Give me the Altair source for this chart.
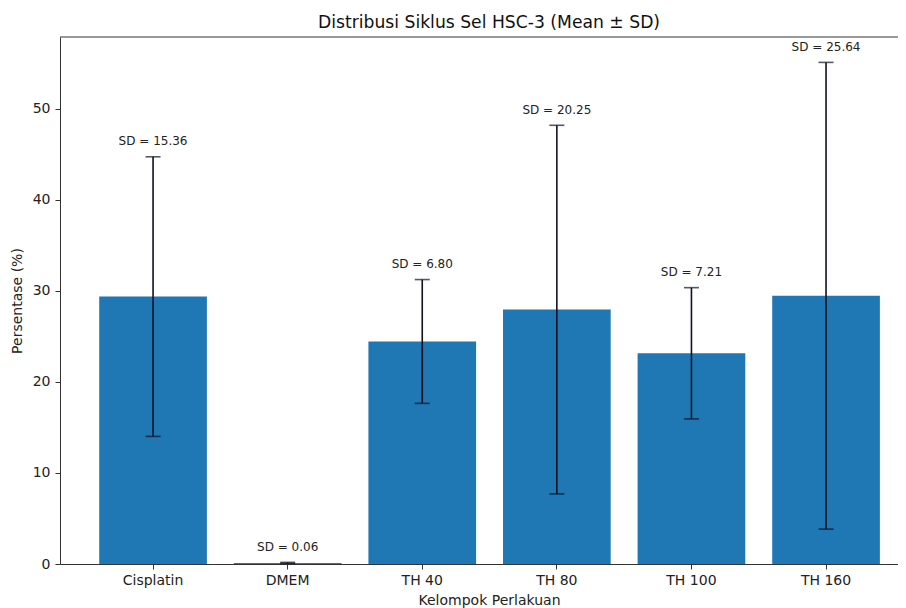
import altair as alt
import pandas as pd

groups = ["Cisplatin", "DMEM", "TH 40", "TH 80", "TH 100", "TH 160"]
means = [29.38, 0.12, 24.45, 27.95, 23.15, 29.47]
sds = [15.36, 0.06, 6.80, 20.25, 7.21, 25.64]

df = pd.DataFrame({"group": groups, "mean": means, "sd": sds})
df["low"] = df["mean"] - df["sd"]
df["high"] = df["mean"] + df["sd"]
df["label"] = ["SD = %.2f" % s for s in sds]

FONT = "DejaVu Sans"
W, H = 838, 527

xscale = alt.Scale(domain=groups, paddingInner=0.2, paddingOuter=0.213, align=0.684)
yscale = alt.Scale(domain=[0, 57.9], nice=False, zero=True)

base = alt.Chart(df)

x_enc = alt.X("group:N", scale=xscale, sort=groups,
              axis=alt.Axis(title="Kelompok Perlakuan", labelAngle=0, labelFontSize=14,
                            labelFont=FONT, labelColor="#222", titleFont=FONT,
                            titleFontSize=14, titleFontWeight="normal", titleColor="#222",
                            tickSize=5, tickColor="#333", domainColor="#333",
                            labelPadding=4, titleX=429, titleY=29, titleBaseline="top",
                            titleAlign="center"))

bars = base.mark_bar(color="#1f77b4").encode(
    x=x_enc,
    y=alt.Y("mean:Q", scale=yscale,
            axis=alt.Axis(title="Persentase (%)", values=[0, 10, 20, 30, 40, 50],
                          grid=False, labelFontSize=14, labelFont=FONT, labelColor="#222",
                          titleFont=FONT, titleFontSize=14, titleFontWeight="normal",
                          titleColor="#222", tickSize=5, tickColor="#333",
                          domainColor="#333", labelPadding=5,
                          titleX=-43, titleY=263.5, titleBaseline="middle",
                          titleAlign="center", titleAngle=270)),
)

err = base.mark_rule(color="#111122", strokeWidth=1.6).encode(
    x=alt.X("group:N", scale=xscale, sort=groups),
    y="low:Q",
    y2="high:Q",
)

cap_hi = base.mark_tick(color="#111122", size=15, thickness=1.6).encode(
    x=alt.X("group:N", scale=xscale, sort=groups),
    y="high:Q",
)
cap_lo = base.mark_tick(color="#111122", size=15, thickness=1.6).encode(
    x=alt.X("group:N", scale=xscale, sort=groups),
    y="low:Q",
)

labels = base.mark_text(font=FONT, fontSize=12, color="#222", baseline="alphabetic",
                        align="center", dy=-11.5).encode(
    x=alt.X("group:N", scale=xscale, sort=groups),
    y="high:Q",
    text="label:N",
)

top_spine = alt.Chart(pd.DataFrame({"a": [0]})).mark_rule(color="#333", strokeWidth=1).encode(
    x=alt.value(0), x2=alt.value(W), y=alt.value(0)
)

chart = alt.layer(bars, err, cap_hi, cap_lo, labels, top_spine).properties(
    width=W, height=H,
    title=alt.TitleParams("Distribusi Siklus Sel HSC-3 (Mean ± SD)", font=FONT,
                          fontSize=17.2, fontWeight="normal", color="#111",
                          dx=10, dy=18, offset=9, baseline="alphabetic", anchor="middle"),
    autosize=alt.AutoSizeParams(type="none"),
    padding={"left": 52, "top": 29, "right": 0, "bottom": 44},
).configure_view(stroke=None)

chart.save("out.html", embed_options={"renderer": "svg", "actions": False})
